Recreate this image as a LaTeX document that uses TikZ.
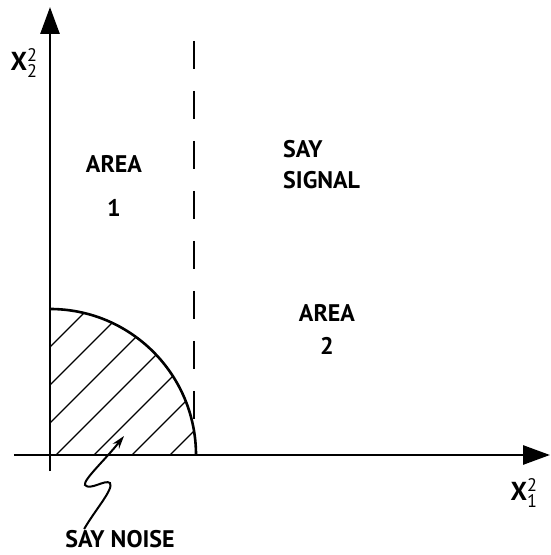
\documentclass[tikz,border=0pt]{standalone}
\usepackage{fontspec}
\setmainfont{PT Sans}
\usepackage{tikz}
\usetikzlibrary{positioning,arrows.meta,calc}

\begin{document}
\begin{tikzpicture}[x=1pt,y=1pt,node distance=24pt,
   font=\bfseries\fontsize{24}{31}\selectfont,
   axis/.style={line width=2.8pt,-{Triangle[length=27pt,width=19pt]}},
   hatch/.style={line width=1.4pt},
   edge/.style={line width=2.6pt},
   squig/.style={line width=2pt,-{Stealth[length=13pt,width=8pt]}},
   lbl/.style={inner sep=1pt,align=center}]
  \useasboundingbox (-50,-100) rectangle (500,455);
  % axes
  \coordinate (O) at (0,0);
  \coordinate (xs) at (-36,0);
  \coordinate (xe) at (500,0);
  \coordinate (ys) at (0,-16);
  \coordinate (ye) at (0,448);
  \draw[axis] (xs) -- (xe);
  \draw[axis] (ys) -- (ye);
  \node[lbl,font=\bfseries\fontsize{26}{30}\selectfont] (x2) at (-26,392) {X$^{\mathrm{2}}_{\mathrm{2}}$};
  \node[lbl,font=\bfseries\fontsize{26}{30}\selectfont] (x1) at (474,-38) {X$^{\mathrm{2}}_{\mathrm{1}}$};
  % noise region
  \begin{scope}
    \clip (O) -- (146,0) arc[start angle=0,end angle=90,radius=146] -- cycle;
    \foreach \c in {108,70,32,-6,-44,-82,-120}
      \draw[hatch] (-160,-160+\c) -- (160,160+\c);
  \end{scope}
  \draw[edge] (146,0) arc[start angle=0,end angle=90,radius=146];
  % boundary
  \coordinate (bt) at (144,414);
  \coordinate (bb) at (144,24);
  \draw[edge,dash pattern=on 28pt off 22pt] (bt) -- (bb);
  % labels
  \node[lbl] (area1) at (64,291) {AREA};
  \node[lbl,below=of area1] (one) {1};
  \node[lbl,align=left,anchor=west] (sig) at (232,290) {SAY\\SIGNAL};
  \node[lbl] (area2) at (277,126) {AREA\\[2pt]2};
  \node[lbl] (noise) at (70,-84) {SAY NOISE};
  \coordinate (ntip) at (74,19);
  \draw[squig] (noise.north west) ++(20,0)
    .. controls (45,-55) and (64,-34) .. (60,-28)
    .. controls (55,-24) and (40,-36) .. (35,-30)
    .. controls (33,-25) and (55,-5) .. (ntip);
\end{tikzpicture}
\end{document}
